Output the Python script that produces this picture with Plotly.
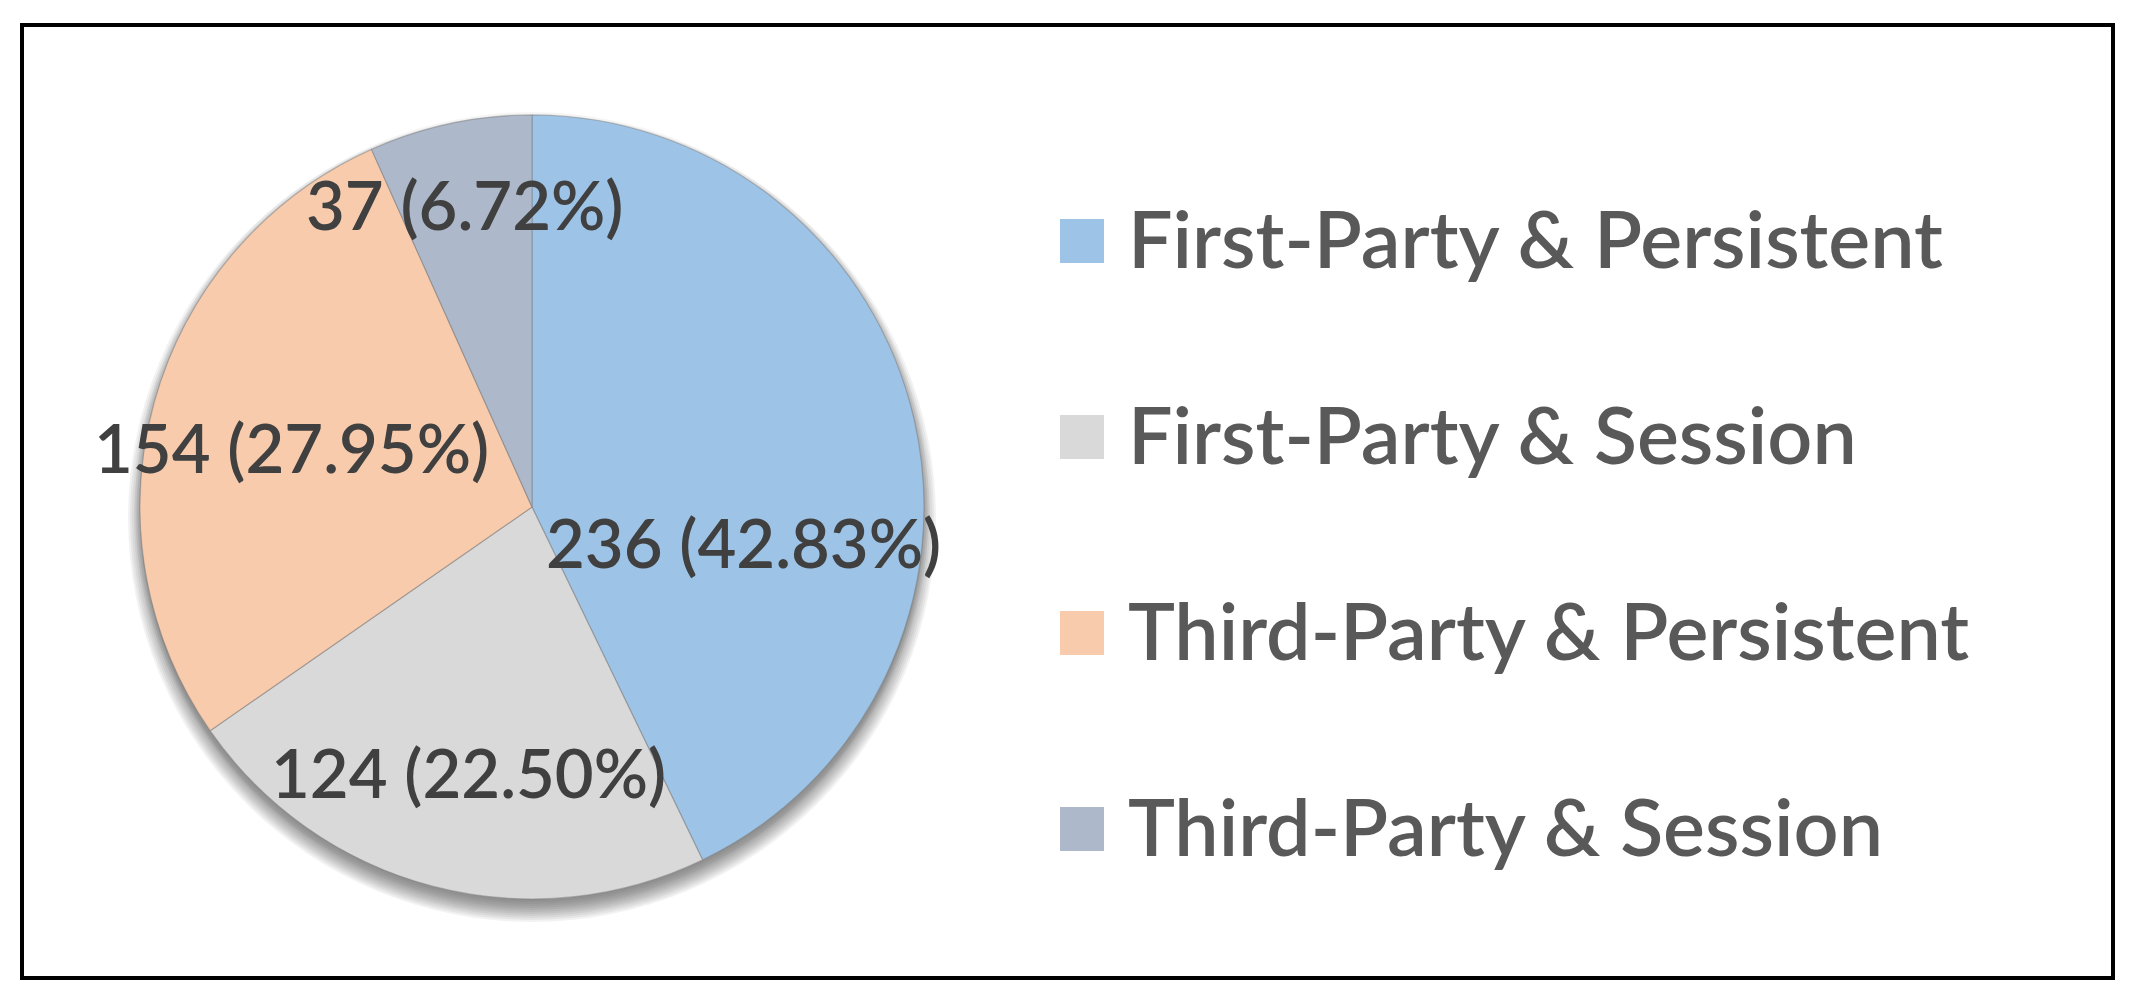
import plotly.graph_objects as go

# ── data ──────────────────────────────────────────────────────────────────────
labels = ["First-Party & Persistent", "First-Party & Session",
          "Third-Party & Persistent", "Third-Party & Session"]
counts = [236, 124, 154, 37]
colors = ["#9DC3E6", "#D9D9D9", "#F8CBAD", "#ADB9CA"]

W, H = 2142, 1004


def px_x(x):
    return x / W


def px_y(y):
    return 1 - y / H


# pie geometry (pixels)
CX, CY, R = 532, 507, 392

total = sum(counts)
label_text = [f"{c} ({c / total * 100:.2f}%)" for c in counts]
# label centres, pixels
label_pos = [(743, 542), (468, 772), (291, 447), (464, 204)]

fig = go.Figure(go.Pie(
    labels=labels,
    values=counts,
    sort=False,
    direction="clockwise",
    rotation=0,
    marker=dict(colors=colors, line=dict(color="rgba(120,120,120,0.45)", width=1.2)),
    textinfo="none",
    hoverinfo="label+value+percent",
    domain=dict(x=[px_x(CX - R), px_x(CX + R)], y=[px_y(CY + R), px_y(CY - R)]),
    showlegend=False,
))

shapes = []
# soft drop shadow under the pie, pushed downwards
for i in range(8):
    rr = R - 2 + i * 2
    off = 11
    shapes.append(dict(
        type="circle", xref="paper", yref="paper", layer="below",
        x0=px_x(CX - rr), x1=px_x(CX + rr),
        y0=px_y(CY + off + rr), y1=px_y(CY + off - rr),
        fillcolor="rgba(0,0,0,0.05)", line=dict(width=0),
    ))
# faint halo all round
for i in range(3):
    rr = R + 1 + i * 2
    shapes.append(dict(
        type="circle", xref="paper", yref="paper", layer="below",
        x0=px_x(CX - rr), x1=px_x(CX + rr),
        y0=px_y(CY + 2 + rr), y1=px_y(CY + 2 - rr),
        fillcolor="rgba(0,0,0,0.04)", line=dict(width=0),
    ))

# outer frame
shapes.append(dict(
    type="rect", xref="paper", yref="paper",
    x0=px_x(22), x1=px_x(2113), y0=px_y(978), y1=px_y(25),
    line=dict(color="black", width=4), fillcolor="rgba(0,0,0,0)",
))

annotations = []
for txt, (lx, ly) in zip(label_text, label_pos):
    annotations.append(dict(
        x=px_x(lx), y=px_y(ly), xref="paper", yref="paper",
        text=txt, showarrow=False, xanchor="center", yanchor="middle",
        font=dict(family="Lato", size=67, color="#404040", weight=600),
    ))

# legend drawn by hand so the swatches can match the reference size
leg_y = [241, 437, 633, 829]
for name, col, y in zip(labels, colors, leg_y):
    shapes.append(dict(
        type="rect", xref="paper", yref="paper",
        x0=px_x(1060), x1=px_x(1104), y0=px_y(y + 22), y1=px_y(y - 22),
        fillcolor=col, line=dict(width=0),
    ))
    annotations.append(dict(
        x=px_x(1126), y=px_y(y - 4), xref="paper", yref="paper",
        text=name, showarrow=False, xanchor="left", yanchor="middle",
        font=dict(family="Lato", size=79, color="#595959", weight=600),
    ))

fig.update_layout(
    width=W, height=H,
    margin=dict(l=0, r=0, t=0, b=0),
    paper_bgcolor="white",
    plot_bgcolor="white",
    shapes=shapes,
    annotations=annotations,
)

fig.write_html("out.html", config={"displayModeBar": False},
               post_script="document.body.style.margin='0';")
